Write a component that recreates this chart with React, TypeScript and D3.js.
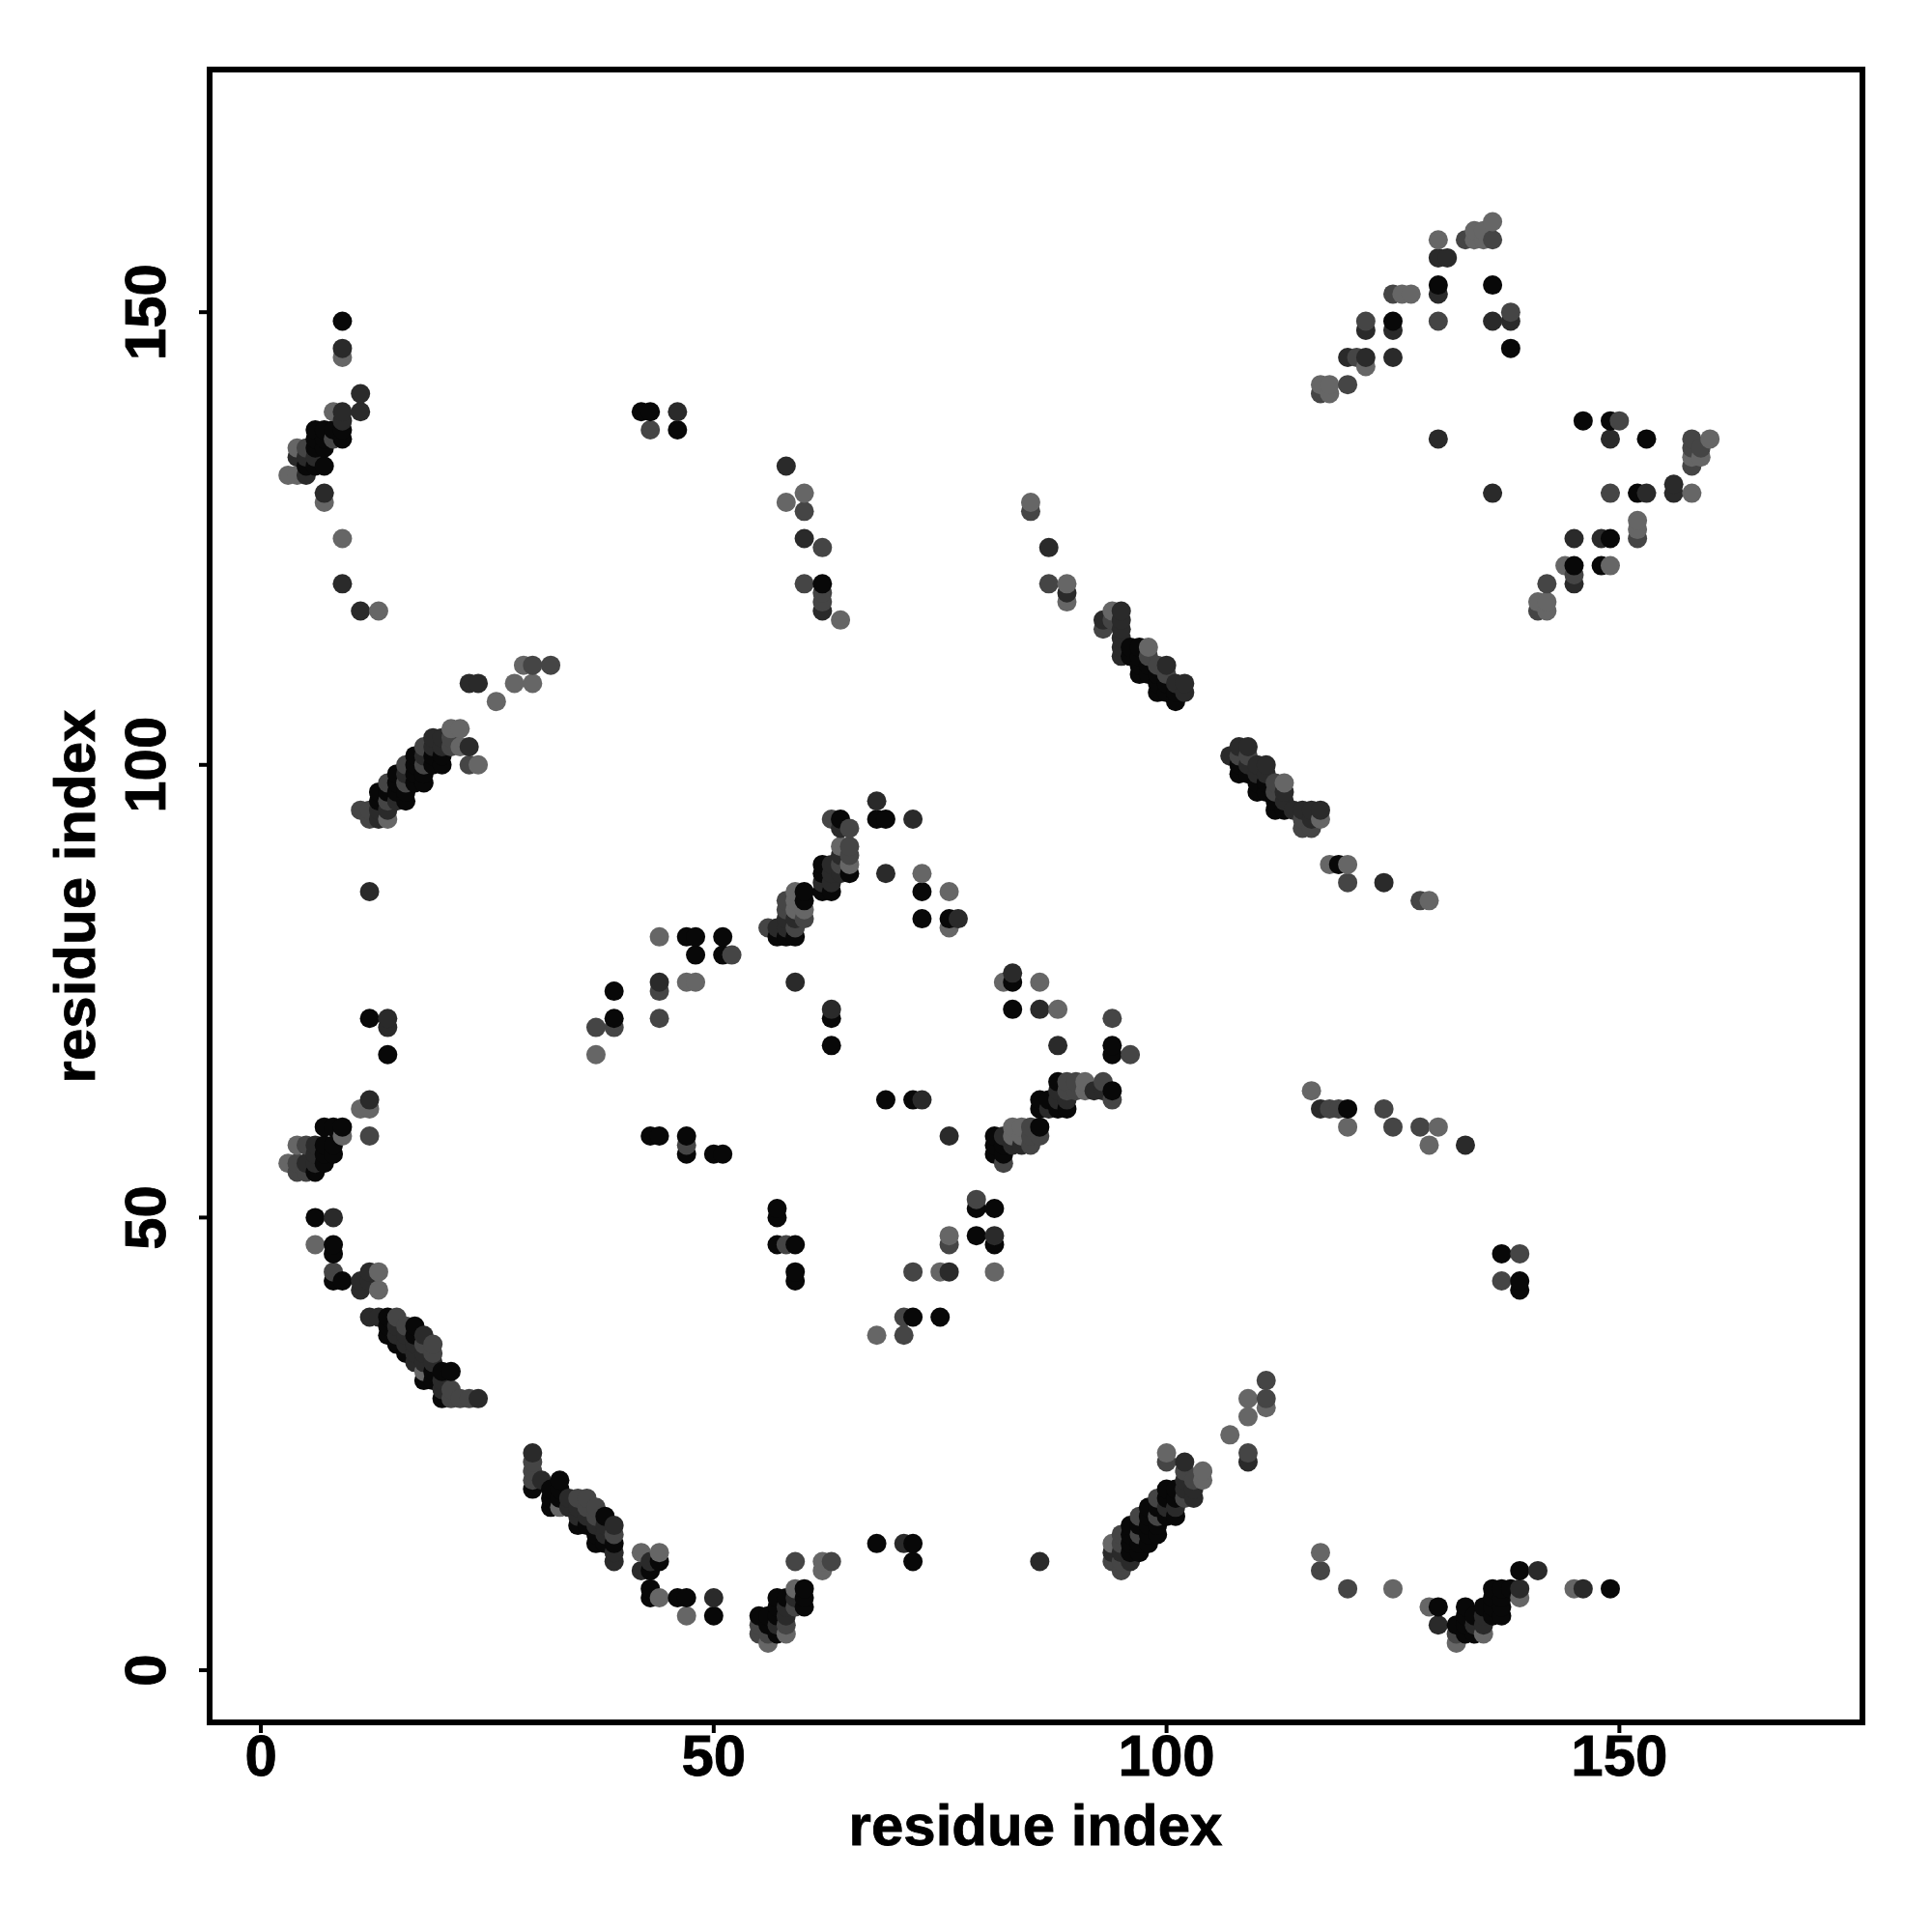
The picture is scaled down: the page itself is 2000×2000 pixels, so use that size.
import * as d3 from "d3";

type Contact = [number, number];

// contacts, one list per grey level
const lightContacts: Contact[] = [
  [11, 62], [12, 62], [4, 58], [3, 56], [6, 47], [13, 44], [13, 42], [18, 33], [33, 18],
  [42, 13], [44, 13], [44, 8], [47, 6], [56, 3], [58, 4], [59, 9], [62, 11], [62, 12], [37, 68], [47, 76], [48, 76],
  [76, 48], [75, 44], [68, 37], [82, 76], [86, 76], [88, 73], [83, 60], [84, 60], [81, 44], [116, 64], [130, 60],
  [129, 58], [109, 30], [111, 29], [109, 28], [107, 26], [100, 24], [104, 22], [104, 21], [94, 14], [117, 13],
  [125, 9], [129, 7], [132, 3], [135, 4], [139, 8], [145, 9], [9, 145], [8, 139], [4, 135], [3, 132], [4, 132],
  [7, 129], [9, 125], [13, 117], [60, 130], [58, 129], [64, 116], [29, 111], [28, 109], [30, 109], [26, 107],
  [22, 104], [22, 102], [24, 100], [14, 94], [59, 86], [59, 85], [60, 84], [59, 84], [64, 91], [65, 89], [73, 88], [76, 86],
  [76, 82], [44, 81], [85, 129], [89, 120], [89, 118], [94, 117], [98, 113], [113, 98], [118, 89], [120, 89],
  [129, 85], [136, 160], [130, 158], [134, 158], [134, 159], [135, 159], [135, 158], [126, 152], [127, 152],
  [122, 144], [117, 142], [118, 142], [118, 141], [158, 130], [160, 136], [158, 134], [159, 134], [152, 127],
  [152, 126], [144, 122], [149, 122], [141, 118], [142, 118], [142, 117], [91, 65], [91, 64], [21, 104], [83, 59], [84, 59],
  [120, 60], [9, 59], [117, 94],
];
const midContacts: Contact[] = [
  [12, 59], [5, 58], [4, 56], [4, 55], [5, 55], [8, 44], [16, 38], [15, 39], [18, 36], [19, 36], [19, 35], [21, 31], [21, 30], [22, 30], [23, 30],
  [30, 23], [30, 22], [30, 21], [35, 19], [36, 19], [36, 18], [37, 18], [37, 17], [39, 15], [59, 12], [63, 12], [44, 75], [44, 72],
  [37, 71], [39, 71], [47, 58], [55, 5], [55, 4], [56, 4], [58, 5], [59, 7], [58, 47], [76, 47], [72, 44], [71, 39],
  [71, 37], [94, 72], [96, 68], [90, 64], [93, 65], [94, 63], [86, 59], [85, 58], [82, 56], [79, 52], [118, 62],
  [119, 62], [124, 62], [125, 60], [128, 60], [139, 46], [137, 43], [111, 32], [111, 30], [109, 24], [100, 23],
  [102, 22], [103, 21], [102, 19], [95, 15], [97, 15], [97, 17], [99, 17], [99, 19], [95, 14], [94, 12], [95, 12], [95, 11], [117, 11], [120, 9],
  [132, 4], [5, 135], [8, 136], [21, 103], [21, 102], [23, 100], [43, 137], [60, 128], [62, 124], [60, 120], [62, 119], [62, 118],
  [32, 111], [30, 111], [11, 95], [12, 95], [12, 94], [14, 96], [14, 98], [16, 98], [16, 100], [18, 100], [18, 102], [63, 94], [65, 93], [65, 91], [65, 90], [58, 85], [60, 83], [56, 82],
  [59, 82], [52, 79], [85, 128], [87, 120], [93, 115], [94, 116], [98, 112], [99, 111], [100, 110], [108, 101], [109, 101], [112, 98], [112, 97], [115, 93], [116, 93], [115, 94], [120, 87],
  [128, 85], [133, 158], [136, 158], [125, 152], [122, 149], [130, 149], [138, 150], [121, 145], [120, 142], [117, 141],
  [150, 138], [149, 130], [158, 136], [159, 135], [158, 135], [158, 133], [152, 125], [145, 121], [142, 120],
  [141, 117], [58, 84], [64, 89], [89, 65], [90, 65], [89, 64], [85, 60], [85, 59],
];
const darkContacts: Contact[] = [
  [14, 72], [14, 71], [12, 63], [6, 57], [5, 56], [6, 58], [6, 56], [8, 50], [11, 43], [12, 44], [12, 43], [11, 42], [12, 39], [13, 39], [15, 38],
  [15, 37], [16, 37], [16, 36], [17, 36], [17, 35], [18, 37], [18, 35], [17, 34], [18, 34], [19, 34], [20, 32], [20, 31], [24, 30], [30, 24],
  [31, 21], [34, 19], [34, 18], [35, 18], [35, 17], [36, 17], [37, 16], [38, 16], [38, 15], [39, 16], [39, 13], [39, 12],
  [43, 12], [42, 11], [50, 8], [57, 5], [58, 6], [58, 7], [59, 8], [59, 76], [63, 73], [44, 76], [71, 14],
  [73, 63], [76, 59], [76, 44], [83, 77], [86, 73], [88, 69], [92, 64], [93, 64], [88, 64], [87, 62], [88, 63], [89, 63], [82, 59], [83, 58], [84, 58], [81, 48],
  [117, 62], [133, 58], [109, 23], [102, 23], [102, 21], [102, 20], [103, 20], [103, 19], [101, 18], [100, 18], [94, 13], [95, 13], [96, 12], [86, 12],
  [130, 5], [134, 5], [135, 6], [135, 5], [139, 9], [141, 11], [146, 9], [9, 146], [11, 141], [11, 139], [9, 139], [9, 138], [4, 134], [5, 134], [5, 132],
  [6, 134], [7, 130], [9, 120], [11, 117], [46, 139], [58, 133], [60, 125], [62, 117], [23, 109], [24, 109], [19, 103], [20, 103], [23, 102], [19, 102], [20, 102],
  [18, 101], [16, 99], [14, 95], [15, 96], [13, 95], [13, 94], [12, 86], [68, 96], [72, 94], [64, 93], [64, 90], [63, 89], [63, 88], [62, 87], [63, 87], [64, 88],
  [58, 83], [59, 83], [58, 82], [57, 82], [77, 83], [69, 88], [87, 124], [89, 119], [95, 117], [95, 116], [95, 115], [95, 114], [95, 113], [95, 112], [93, 116], [100, 111],
  [101, 109], [102, 109], [102, 108], [107, 101], [108, 102], [109, 102], [111, 100], [110, 100], [109, 100], [110, 99], [111, 99],
  [113, 97], [114, 95], [115, 95], [116, 95], [117, 95], [116, 94], [113, 96], [124, 87], [130, 156], [131, 156], [130, 152], [122, 148], [125, 148], [136, 149], [138, 149],
  [120, 145], [122, 145], [125, 145], [149, 136], [130, 136], [136, 130], [153, 130], [156, 131], [156, 130], [145, 125], [148, 125], [145, 120],
];
const blackContacts: Contact[] = [
  [12, 72], [14, 68], [7, 60], [8, 60], [9, 60], [7, 58], [8, 58], [7, 57], [8, 57], [7, 56], [6, 55], [6, 50], [8, 47], [8, 46], [8, 43], [9, 43],
  [14, 39], [14, 38], [17, 38], [14, 37], [17, 37], [15, 36], [16, 35], [19, 33], [20, 33], [21, 33], [18, 32], [19, 32], [20, 30],
  [30, 20], [32, 20], [33, 20], [33, 21], [32, 19], [33, 19], [32, 18], [35, 16], [36, 16], [37, 15], [37, 14], [38, 17], [38, 14], [39, 14],
  [43, 11], [44, 12], [43, 9], [43, 8], [46, 8], [47, 8], [50, 6], [55, 6], [56, 6], [56, 5], [57, 8], [57, 7], [57, 6], [57, 4], [58, 8], [60, 9], [60, 8], [60, 7],
  [68, 14], [72, 14], [72, 12], [39, 75], [39, 72], [43, 59], [44, 59], [47, 59], [47, 57], [50, 57], [51, 57], [57, 51], [57, 50], [57, 47], [59, 47], [59, 44], [59, 43],
  [63, 72], [63, 69], [69, 63], [72, 63], [72, 39], [75, 39], [83, 76], [83, 73], [94, 69], [94, 68], [88, 65], [94, 64], [86, 63], [87, 63], [86, 62], [88, 62], [89, 62],
  [86, 60], [81, 59], [81, 58], [82, 58], [81, 57], [82, 57], [79, 51], [81, 51], [79, 48], [81, 47], [120, 62], [137, 46], [139, 43], [139, 42],
  [100, 20], [101, 20], [100, 19], [101, 19], [101, 17], [98, 18], [99, 18], [98, 17], [100, 17], [96, 16], [97, 16], [98, 16], [99, 16], [96, 15], [98, 15], [99, 15], [96, 14], [97, 14], [98, 14], [96, 13], [97, 13],
  [130, 7], [132, 5], [133, 7], [133, 6], [133, 5], [133, 4], [134, 6], [134, 4], [135, 7], [136, 9], [136, 8], [136, 7], [136, 6], [137, 9], [137, 8], [137, 7], [137, 6], [138, 9], [139, 11], [149, 9],
  [9, 149], [9, 137], [9, 136], [6, 137], [7, 137], [8, 137], [6, 136], [7, 136], [6, 135], [7, 135], [6, 133], [7, 133], [5, 133], [42, 139], [43, 139], [46, 137],
  [62, 120], [17, 101], [19, 101], [20, 101], [17, 100], [19, 100], [20, 100], [15, 99], [17, 99], [18, 99], [15, 98], [17, 98], [18, 98], [13, 97], [14, 97], [15, 97], [16, 97], [13, 96], [16, 96],
  [68, 94], [69, 94], [64, 94], [65, 88], [62, 89], [62, 88], [63, 86], [62, 86], [60, 86], [60, 85], [57, 81], [58, 81], [59, 81], [73, 86], [73, 83], [76, 83], [47, 81], [48, 81], [51, 81], [48, 79], [51, 79],
  [96, 113], [96, 112], [97, 113], [97, 112], [97, 111], [97, 110], [98, 111], [98, 110], [99, 110], [99, 109], [99, 108], [100, 109], [100, 108], [101, 108], [101, 107],
  [108, 100], [108, 99], [109, 99], [110, 98], [110, 97], [111, 98], [111, 97], [112, 96], [112, 95], [113, 95], [119, 89],
  [130, 153], [136, 153], [125, 149], [138, 146], [146, 138], [149, 138], [153, 136], [152, 130], [149, 125], [145, 122], [148, 122],
];

const greyLevels = ["#666666", "#454545", "#2a2a2a", "#080808"];
const contactLists = [lightContacts, midContacts, darkContacts, blackContacts];

const xTicks = [0, 50, 100, 150];
const yTicks = [0, 50, 100, 150];
const axisLabel = "residue index";

const plot = { left: 217, right: 1928, top: 72, bottom: 1783 };

// plotted in residue order so later dots cover earlier ones, like the original
const points = contactLists
  .flatMap((list, level) => list.map(([x, y]) => ({ x, y, fill: greyLevels[level] })))
  .sort((a, b) => d3.ascending(a.x, b.x) || d3.ascending(a.y, b.y));

const x = d3.scaleLinear().domain([-5.66, 176.84]).range([plot.left, plot.right]);
const y = d3.scaleLinear().domain([-5.76, 176.8]).range([plot.bottom, plot.top]);

const App = () => {
  const font = {
    fontFamily: "'Liberation Sans', Arial, sans-serif",
    fontWeight: 700,
    fontSize: 60,
    stroke: "#000",
    strokeWidth: 0.8,
  };
  return (
    <svg width={2000} height={2000} style={{ position: "absolute", left: 0, top: 0, background: "#fff" }}>
      {points.map((d, i) => (
        <circle key={i} cx={x(d.x)} cy={y(d.y)} r={10} fill={d.fill} />
      ))}
      <rect
        x={plot.left}
        y={plot.top}
        width={plot.right - plot.left}
        height={plot.bottom - plot.top}
        fill="none"
        stroke="#000"
        strokeWidth={6}
      />
      {xTicks.map((t) => (
        <g key={t}>
          <line x1={x(t)} x2={x(t)} y1={plot.bottom} y2={plot.bottom + 11} stroke="#000" strokeWidth={4} />
          <text x={x(t)} y={1838} textAnchor="middle" {...font}>
            {t}
          </text>
        </g>
      ))}
      {yTicks.map((t) => (
        <g key={t}>
          <line x1={plot.left} x2={plot.left - 11} y1={y(t)} y2={y(t)} stroke="#000" strokeWidth={4} />
          <text transform={`translate(171,${y(t)}) rotate(-90)`} textAnchor="middle" {...font}>
            {t}
          </text>
        </g>
      ))}
      <text x={1072} y={1910} textAnchor="middle" {...font}>
        {axisLabel}
      </text>
      <text transform="translate(98,928) rotate(-90)" textAnchor="middle" {...font}>
        {axisLabel}
      </text>
    </svg>
  );
};

export default App;
